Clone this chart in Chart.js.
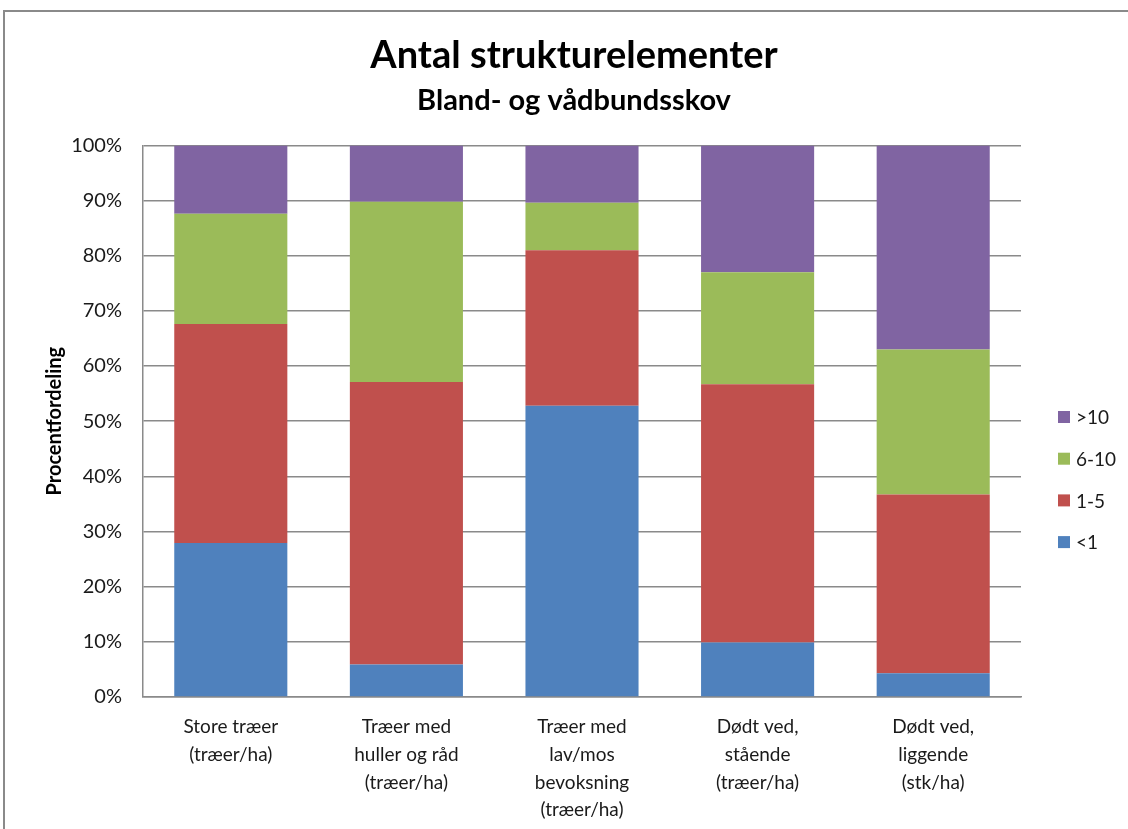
<!DOCTYPE html>
<html>
<head>
<meta charset="utf-8">
<script src="https://cdn.jsdelivr.net/npm/chart.js@4.4.1/dist/chart.umd.min.js"></script>
<style>
  html, body { margin: 0; padding: 0; background: #fff; overflow: hidden; }
  #wrap { position: relative; width: 1128px; height: 829px; }
  #frame { position: absolute; left: 3px; top: 10px; width: 1200px; height: 900px; border: 2px solid #8a8a8a; box-sizing: border-box; }
  canvas { position: absolute; left: 0; top: 0; }
</style>
</head>
<body>
<div id="wrap">
  <div id="frame"></div>
  <canvas id="c" width="1128" height="829"></canvas>
</div>
<script>
const titleText = 'Antal strukturelementer';
const subtitleText = 'Bland- og vådbundsskov';
const yAxisTitle = 'Procentfordeling';
const categories = [
  ['Store træer', '(træer/ha)'],
  ['Træer med', 'huller og råd', '(træer/ha)'],
  ['Træer med', 'lav/mos', 'bevoksning', '(træer/ha)'],
  ['Dødt ved,', 'stående', '(træer/ha)'],
  ['Dødt ved,', 'liggende', '(stk/ha)']
];
const seriesNames = ['<1', '1-5', '6-10', '>10'];
const seriesColors = ['#4F81BD', '#C0504D', '#9BBB59', '#8064A2'];
const lessThan1 = [27.9, 5.9, 52.8, 9.9, 4.3];
const oneToFive = [39.7, 51.2, 28.2, 46.8, 32.4];
const sixToTen = [20.0, 32.7, 8.6, 20.3, 26.3];
const moreThan10 = [12.4, 10.2, 10.4, 23.0, 37.0];
const yTicks = [0, 10, 20, 30, 40, 50, 60, 70, 80, 90, 100];

const FONT = 'Lato, "Open Sans", sans-serif';
const seriesValues = [lessThan1, oneToFive, sixToTen, moreThan10];

const legendPlugin = {
  id: 'customLegend',
  afterDraw(chart) {
    const ctx = chart.ctx;
    const ds = chart.data.datasets;
    ctx.save();
    ctx.font = '19px ' + FONT;
    ctx.textBaseline = 'middle';
    ctx.textAlign = 'left';
    for (let k = 0; k < ds.length; k++) {
      const d = ds[ds.length - 1 - k];
      const y = 417 + k * 41.7;
      ctx.fillStyle = d.backgroundColor;
      ctx.fillRect(1058, y - 6, 12, 12);
      ctx.fillStyle = '#1a1a1a';
      ctx.fillText(d.label, 1076, y + 1);
    }
    ctx.restore();
  }
};

new Chart(document.getElementById('c'), {
  type: 'bar',
  data: {
    labels: categories,
    datasets: seriesNames.map((n, i) => ({
      label: n,
      data: seriesValues[i],
      backgroundColor: seriesColors[i],
      borderWidth: 0,
      barPercentage: 0.644,
      categoryPercentage: 1.0
    }))
  },
  options: {
    responsive: false,
    animation: false,
    devicePixelRatio: 1,
    layout: { padding: { left: 20, right: 0, top: 0, bottom: 0 } },
    plugins: {
      legend: { display: false },
      tooltip: { enabled: false },
      title: {
        display: true,
        text: titleText,
        color: '#000',
        font: { family: FONT, size: 38, weight: 'bold' },
        padding: { top: 33, bottom: 0 }
      },
      subtitle: {
        display: true,
        text: subtitleText,
        color: '#000',
        font: { family: FONT, size: 29, weight: 'bold' },
        padding: { top: 5, bottom: 27 }
      }
    },
    scales: {
      x: {
        stacked: true,
        afterFit(scale) { scale.height = 132; },
        grid: { display: false, drawTicks: false },
        border: { display: true, color: '#8a8a8a', width: 1.5 },
        ticks: {
          color: '#1a1a1a',
          font: { family: FONT, size: 19, lineHeight: 1.45 },
          padding: 16.5,
          maxRotation: 0,
          autoSkip: false
        }
      },
      y: {
        stacked: true,
        min: 0,
        max: 100,
        afterFit(scale) { scale.width = 123; },
        afterBuildTicks(scale) { scale.ticks = yTicks.map(v => ({ value: v })); },
        grid: { color: '#8a8a8a', lineWidth: 1.5, drawTicks: false },
        border: { display: true, color: '#8a8a8a', width: 1.5 },
        ticks: {
          color: '#1a1a1a',
          font: { family: FONT, size: 20 },
          padding: 21,
          callback: v => v + '%'
        },
        title: {
          display: true,
          text: yAxisTitle,
          color: '#000',
          font: { family: FONT, size: 20, weight: 'bold' },
          padding: { top: 23, bottom: 0 }
        }
      },
      legendSpace: {
        position: 'right',
        display: true,
        afterFit(scale) { scale.width = 107; },
        grid: { display: false, drawTicks: false },
        border: { display: false },
        ticks: { display: false }
      }
    }
  },
  plugins: [legendPlugin]
});
</script>
</body>
</html>
